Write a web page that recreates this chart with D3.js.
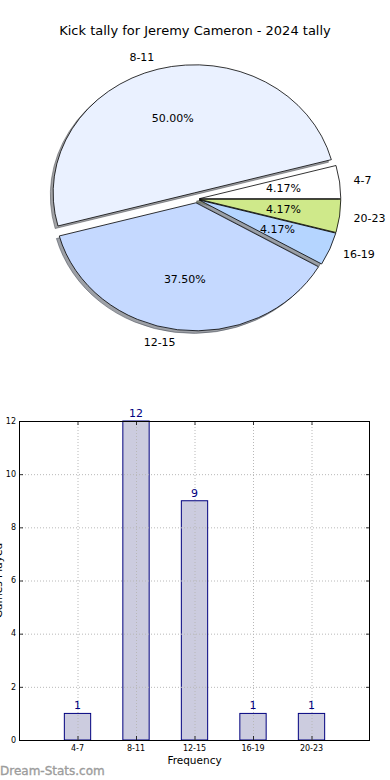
<!DOCTYPE html>
<html><head><meta charset="utf-8">
<script src="https://cdn.jsdelivr.net/npm/d3@7"></script>
<style>body{margin:0;background:#fff}svg{display:block;font-family:"DejaVu Sans",sans-serif}</style>
</head><body>
<svg id="c" width="390" height="780"></svg>
<script>
const title = "Kick tally for Jeremy Cameron - 2024 tally";
const categories = ["4-7","8-11","12-15","16-19","20-23"];
const counts = [1,12,9,1,1];
const pieColors = ["#ffffff","#eaf1ff","#c5d9ff","#b5d5ff","#cfe98a"];
const explode = [0.02,0.05,0.03,0.02,0.02];
const yTicks = [0,2,4,6,8,10,12];
const xLabel = "Frequency";
const yLabel = "Games Played";
const watermark = "Dream-Stats.com";

const svg = d3.select("#c");
svg.append("text").attr("x",195).attr("y",35).attr("text-anchor","middle")
  .attr("font-size",13).attr("fill","#000").text(title);

// ---- Pie ----
const cx = 196.5, cy = 199, rx = 141.5, ry = 128;
const total = d3.sum(counts);
const pie = d3.pie().sort(null).startAngle(Math.PI/2).endAngle(Math.PI/2 - 2*Math.PI);
const arcs = pie(counts);
const arc = d3.arc().innerRadius(0).outerRadius(1);
const pg = svg.append("g");
const shadowG = pg.append("g"), wedgeG = pg.append("g"), textG = pg.append("g");
arcs.forEach((a,i)=>{
  const m = (a.startAngle + a.endAngle)/2;
  const ox = cx + explode[i]*rx*Math.sin(m), oy = cy - explode[i]*ry*Math.cos(m);
  const c = d3.rgb(pieColors[i]);
  const sc = d3.rgb(c.r*0.3,c.g*0.3,c.b*0.3);
  shadowG.append("path").attr("d",arc(a))
    .attr("transform",`translate(${ox-0.02*rx},${oy+0.02*ry}) scale(${rx},${ry})`)
    .attr("fill",sc).attr("stroke",sc).attr("fill-opacity",0.5).attr("stroke-opacity",0.5)
    .attr("stroke-width",1).attr("vector-effect","non-scaling-stroke");
  wedgeG.append("path").attr("d",arc(a))
    .attr("transform",`translate(${ox},${oy}) scale(${rx},${ry})`)
    .attr("fill",pieColors[i]).attr("stroke","#000").attr("stroke-width",0.8)
    .attr("vector-effect","non-scaling-stroke");
  const lx = ox + 1.1*rx*Math.sin(m), ly = oy - 1.1*ry*Math.cos(m);
  textG.append("text").attr("x",lx).attr("y",ly).attr("dy","0.35em")
    .attr("text-anchor", Math.sin(m) > 0 ? "start" : "end")
    .attr("font-size",11).text(categories[i]);
  const px = ox + 0.6*rx*Math.sin(m), py = oy - 0.6*ry*Math.cos(m);
  textG.append("text").attr("x",px).attr("y",py).attr("dy","0.35em")
    .attr("text-anchor","middle").attr("font-size",11)
    .text((a.value/total*100).toFixed(2)+"%");
});

// ---- Bar chart ----
const L = 19, R = 370, T = 421, B = 740;
const x = d3.scaleLinear().domain([-1,5]).range([L,R]);
const y = d3.scaleLinear().domain([0,12]).range([B,T]);
const bw = x(0.45)-x(0);
const bg = svg.append("g");
bg.selectAll("rect.bar").data(counts).join("rect").attr("class","bar")
  .attr("x",(d,i)=>x(i)-bw/2).attr("y",d=>y(d)).attr("width",bw).attr("height",d=>B-y(d))
  .attr("fill","#ccccdf").attr("stroke","#00007f").attr("stroke-width",1);
// grid
const grid = bg.append("g").attr("stroke","#b8b8b8").attr("stroke-width",1).attr("stroke-dasharray","1,2");
grid.selectAll("line.v").data(categories).join("line")
  .attr("x1",(d,i)=>x(i)+0.5).attr("x2",(d,i)=>x(i)+0.5).attr("y1",T).attr("y2",B);
grid.selectAll("line.h").data(yTicks).join("line")
  .attr("x1",L).attr("x2",R).attr("y1",d=>y(d)+0.5).attr("y2",d=>y(d)+0.5);
// ticks inward
const tk = bg.append("g").attr("stroke","#000").attr("stroke-width",0.8);
yTicks.forEach(t=>{
  tk.append("line").attr("x1",L).attr("x2",L+4).attr("y1",y(t)+0.5).attr("y2",y(t)+0.5);
  tk.append("line").attr("x1",R-4).attr("x2",R).attr("y1",y(t)+0.5).attr("y2",y(t)+0.5);
});
categories.forEach((c,i)=>{
  tk.append("line").attr("x1",x(i)+0.5).attr("x2",x(i)+0.5).attr("y1",B).attr("y2",B-4);
  tk.append("line").attr("x1",x(i)+0.5).attr("x2",x(i)+0.5).attr("y1",T).attr("y2",T+4);
});
bg.append("rect").attr("x",L+0.5).attr("y",T+0.5).attr("width",R-L-1).attr("height",B-T)
  .attr("fill","none").attr("stroke","#000").attr("stroke-width",1);
// value labels
bg.selectAll("text.val").data(counts).join("text").attr("class","val")
  .attr("x",(d,i)=>x(i)).attr("y",d=>y(d)-4).attr("text-anchor","middle")
  .attr("font-size",11).attr("fill","#00007f").text(d=>d);
// tick labels
bg.selectAll("text.yt").data(yTicks).join("text").attr("class","yt")
  .attr("x",L-3).attr("y",d=>y(d)).attr("dy","0.35em").attr("text-anchor","end")
  .attr("font-size",8).text(d=>d);
bg.selectAll("text.xt").data(categories).join("text").attr("class","xt")
  .attr("x",(d,i)=>x(i)).attr("y",B+11).attr("text-anchor","middle")
  .attr("font-size",8).text(d=>d);
bg.append("text").attr("x",(L+R)/2).attr("y",764).attr("text-anchor","middle")
  .attr("font-size",10.5).text(xLabel);
bg.append("text").attr("transform",`translate(2,${(T+B)/2}) rotate(-90)`)
  .attr("text-anchor","middle").attr("font-size",10.5).text(yLabel);
svg.append("text").attr("x",0).attr("y",775).attr("font-size",12)
  .attr("fill","#9c9c9c").attr("stroke","#9c9c9c").attr("stroke-width",0.35).text(watermark);
</script>
</body></html>
